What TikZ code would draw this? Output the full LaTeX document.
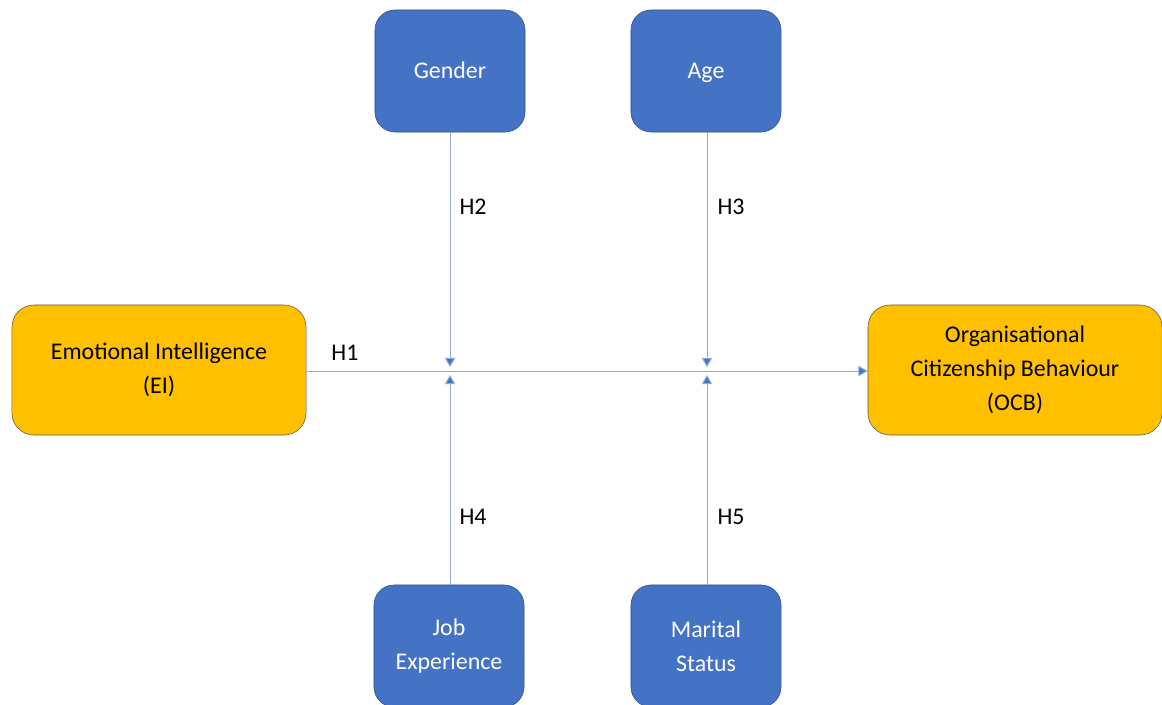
\documentclass[tikz,border=0pt]{standalone}
\usepackage{fontspec}
\setmainfont{Carlito}
\usetikzlibrary{arrows.meta}
\definecolor{boxblue}{HTML}{4472C4}
\definecolor{boxedge}{HTML}{2F528F}
\definecolor{boxgold}{HTML}{FFC000}
\definecolor{linkblue}{HTML}{8FAADC}

\begin{document}
\begin{tikzpicture}[x=0.025cm,y=-0.025cm,
	moder/.style={rectangle, rounded corners=0.5cm, fill=boxblue, draw=boxedge, thin,
		text=white, minimum width=3.75cm, minimum height=3.05cm, align=center,
		font=\fontsize{17}{24}\selectfont},
	varbox/.style={rectangle, rounded corners=0.55cm, fill=boxgold, draw=gray!70!black, thin,
		text=black, minimum width=7.35cm, minimum height=3.25cm, align=center,
		font=\fontsize{17}{24}\selectfont},
	link/.style={draw=linkblue, line width=0.7pt, -{Triangle[length=2.3mm,width=2.6mm,fill=boxblue]}},
	hyp/.style={font=\fontsize{17}{24}\selectfont}]
	\useasboundingbox (0,0) rectangle (1162,704);
	\fill[white] (0,0) rectangle (1162,704);

	% variables
	\node[varbox] (ei) at (159,370) {Emotional Intelligence\\(EI)};
	\node[varbox] (ocb) at (1015,370) {Organisational\\Citizenship Behaviour\\(OCB)};

	% moderators
	\node[moder, text height=1.2em, text depth=0.15em] (gender) at (450,71) {Gender};
	\node[moder, text height=1.2em, text depth=0.15em] (age) at (706,71) {Age};
	\node[moder] (job) at (449,646) {Job\\Experience};
	\node[moder] (marital) at (706,646) {Marital\\Status};

	% meeting points on the main path
	\coordinate (mtop) at (450,367);
	\coordinate (mbot) at (450,375);
	\coordinate (ntop) at (707,367);
	\coordinate (nbot) at (707,375);

	\draw[link] (ei.east |- 0,371) -- (ocb.west |- 0,371);
	\draw[link] (gender.south -| mtop) -- (mtop);
	\draw[link] (job.north -| mbot) -- (mbot);
	\draw[link] (age.south -| ntop) -- (ntop);
	\draw[link] (marital.north -| nbot) -- (nbot);

	% hypotheses
	\node[hyp] (h1) at (345,353) {H1};
	\node[hyp] (h2) at (473,207) {H2};
	\node[hyp] (h3) at (731,207) {H3};
	\node[hyp] (h4) at (473,517) {H4};
	\node[hyp] (h5) at (731,517) {H5};
\end{tikzpicture}
\end{document}
